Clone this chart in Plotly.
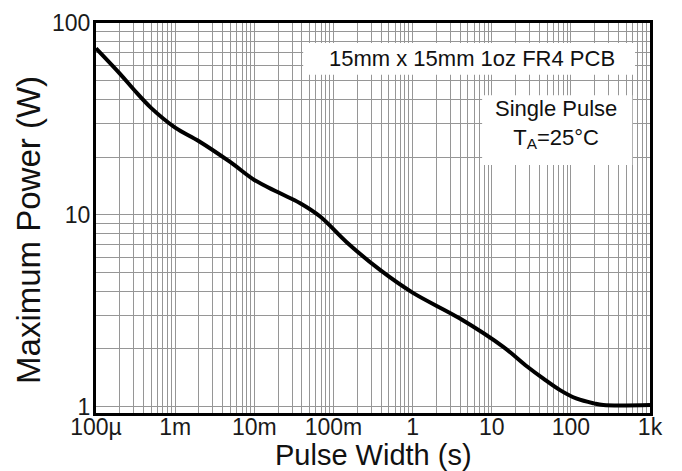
import plotly.graph_objects as go

# ---- data ----
pulse_width_s = [1e-4, 2e-4, 3e-4, 5e-4, 1e-3, 2e-3, 5e-3, 0.01, 0.02, 0.038,
                 0.068, 0.147, 0.388, 1.0, 3.97, 14.0, 28.0, 45.0, 73.0,
                 119.0, 196.0, 257.0, 1000.0]
max_power_w = [73.8, 54.5, 45.0, 36.0, 28.5, 24.2, 18.8, 15.2, 13.1, 11.5,
               9.8, 7.2, 5.16, 3.93, 2.88, 2.05, 1.62, 1.40, 1.22,
               1.10, 1.04, 1.02, 1.02]

x_decades = [1e-4, 1e-3, 1e-2, 1e-1, 1, 10, 100, 1000]
x_tick_labels = ["100µ", "1m", "10m", "100m", "1", "10", "100", "1k"]
y_decades = [1, 10, 100]
y_tick_labels = ["1", "10", "100"]

x_title = "Pulse Width (s)"
y_title = "Maximum Power (W)"
note_board = "15mm x 15mm 1oz FR4 PCB"
note_pulse = "Single Pulse<br>T<sub>A</sub>=25°C"

# ---- build grid ticks (1..9 per decade, labels only on decades) ----
def grid_ticks(decades, labels):
    vals, texts = [], []
    for i, d in enumerate(decades):
        vals.append(d)
        texts.append(labels[i])
        if i < len(decades) - 1:
            for m in range(2, 10):
                vals.append(d * m)
                texts.append("")
    return vals, texts

xv, xt = grid_ticks(x_decades, x_tick_labels)
yv, yt = grid_ticks(y_decades, y_tick_labels)

FONT = "Liberation Sans, Arial, sans-serif"

fig = go.Figure()
fig.add_trace(go.Scatter(
    x=pulse_width_s, y=max_power_w, mode="lines",
    line=dict(color="black", width=4, shape="spline", smoothing=1.0),
    showlegend=False, hoverinfo="skip"))

fig.update_layout(
    width=682, height=471,
    margin=dict(l=96, r=32, t=23, b=58),
    paper_bgcolor="white", plot_bgcolor="white",
    font=dict(family=FONT, color="#111111"),
    xaxis=dict(
        type="log", range=[-4, 3], automargin=False,
        tickmode="array", tickvals=xv, ticktext=xt, tickangle=0,
        showgrid=True, gridcolor="#969696", gridwidth=1,
        showline=True, linecolor="black", linewidth=3, mirror=True,
        ticks="", tickfont=dict(size=23, family=FONT, color="#1a1a1a"),
        zeroline=False,
    ),
    yaxis=dict(
        type="log", range=[-0.033, 2], automargin=False,
        tickmode="array", tickvals=yv, ticktext=yt, tickangle=0,
        showgrid=True, gridcolor="#969696", gridwidth=1,
        showline=True, linecolor="black", linewidth=3, mirror=True,
        ticks="", tickfont=dict(size=23, family=FONT, color="#1a1a1a"),
        zeroline=False,
    ),
    shapes=[
        dict(type="rect", xref="paper", yref="paper", x0=0.374, x1=0.973, y0=0.867, y1=0.949,
             fillcolor="white", line=dict(width=0), layer="above"),
        dict(type="rect", xref="paper", yref="paper", x0=0.697, x1=0.968, y0=0.636, y1=0.815,
             fillcolor="white", line=dict(width=0), layer="above"),
    ],
    annotations=[
        dict(text=note_board, xref="paper", yref="paper", x=0.679, y=0.910,
             xanchor="center", yanchor="middle", showarrow=False,
             font=dict(size=22, family=FONT, color="#111111")),
        dict(text=note_pulse, xref="paper", yref="paper", x=0.830, y=0.742,
             xanchor="center", yanchor="middle", showarrow=False,
             font=dict(size=22, family=FONT, color="#111111")),
        dict(text=x_title, xref="paper", yref="paper", x=0.5, y=-0.108,
             xanchor="center", yanchor="middle", showarrow=False,
             font=dict(size=29, family=FONT, color="#111111")),
        dict(text=y_title, xref="paper", yref="paper", x=-0.123, y=0.469,
             xanchor="center", yanchor="middle", showarrow=False, textangle=-90,
             font=dict(size=33, family=FONT, color="#111111")),
    ],
)

try:
    fig.update_xaxes(ticklabelstandoff=-9)
    fig.update_yaxes(ticklabelstandoff=-2)
except Exception:
    pass

fig.write_html("out.html", post_script="document.body.style.margin='0px';",
               config={"displayModeBar": False})
